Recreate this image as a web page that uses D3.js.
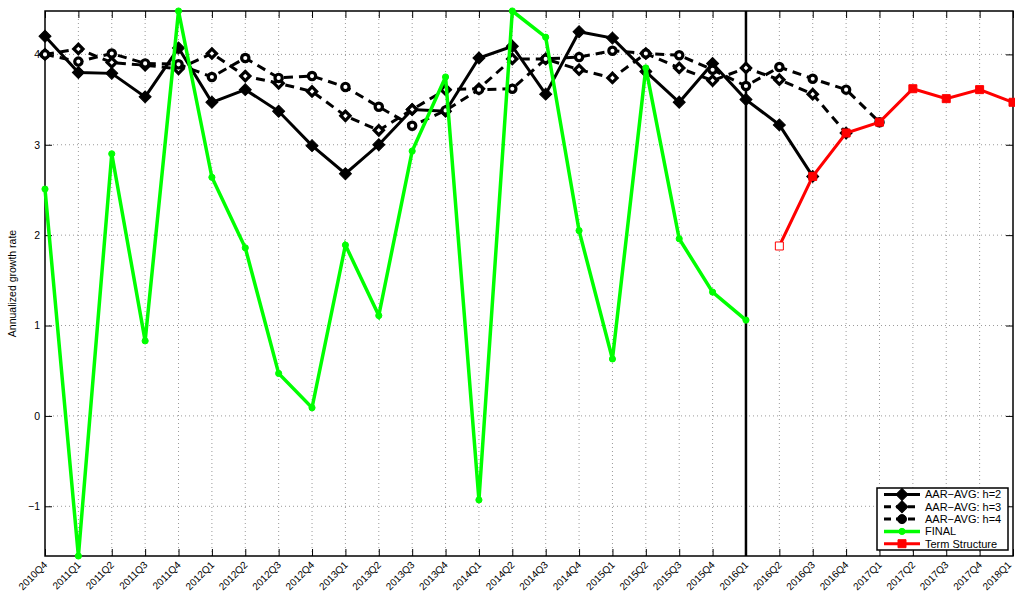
<!DOCTYPE html>
<html>
<head>
<meta charset="utf-8">
<script src="https://cdn.jsdelivr.net/npm/d3@7"></script>
<style>
  body { margin: 0; background: #fff; }
  svg { display: block; font-family: "Liberation Sans", Arial, sans-serif; }
</style>
</head>
<body>
<script>
// quarters on the x axis
var quarters = ["2010Q4", "2011Q1", "2011Q2", "2011Q3", "2011Q4", "2012Q1", "2012Q2", "2012Q3",
    "2012Q4", "2013Q1", "2013Q2", "2013Q3", "2013Q4", "2014Q1", "2014Q2", "2014Q3", "2014Q4",
    "2015Q1", "2015Q2", "2015Q3", "2015Q4", "2016Q1", "2016Q2", "2016Q3", "2016Q4", "2017Q1",
    "2017Q2", "2017Q3", "2017Q4", "2018Q1"];

// series, each starts at 2010Q4 unless noted
var aarH2 = [4.20, 3.80, 3.79, 3.53, 4.07, 3.47, 3.61, 3.37, 2.99, 2.68, 3.00, 3.39, 3.37, 3.96,
    4.09, 3.56, 4.25, 4.18, 3.81, 3.47, 3.90, 3.50, 3.22, 2.65];
var aarH3 = [4.00, 4.06, 3.91, 3.88, 3.84, 4.01, 3.76, 3.68, 3.59, 3.32, 3.16, 3.39, 3.61, 3.62,
    3.95, 3.95, 3.83, 3.74, 4.01, 3.85, 3.71, 3.85, 3.72, 3.56, 3.13];
var aarH4 = [4.00, 3.92, 4.01, 3.90, 3.89, 3.75, 3.96, 3.74, 3.76, 3.64, 3.42, 3.21, 3.38, 3.61,
    3.62, 3.95, 3.97, 4.04, 4.01, 3.99, 3.83, 3.65, 3.86, 3.73, 3.61, 3.25];
var finalVals = [2.51, -1.55, 2.90, 0.83, 4.48, 2.64, 1.86, 0.47, 0.09, 1.89, 1.11, 2.93, 3.75,
    -0.93, 4.48, 4.19, 2.05, 0.63, 3.85, 1.96, 1.37, 1.06];
// term structure starts at 2016Q2
var termStart = "2016Q2";
var termVals = [1.88, 2.65, 3.13, 3.25, 3.62, 3.51, 3.61, 3.47];

var splitQuarter = "2016Q1";
var yTicks = [-1, 0, 1, 2, 3, 4];
var yLabel = "Annualized growth rate";

var width = 1015, height = 592;
var margin = {left: 45, right: 2, top: 11, bottom: 36};

function toPoints(vals, start) {
    var i0 = quarters.indexOf(start);
    return vals.map((v, i) => ({q: quarters[i0 + i], v: v}));
}

var series = [
    {name: "AAR\u2212AVG: h=2", pts: toPoints(aarH2, "2010Q4"), color: "#000", width: 3, dash: null,
     shape: "diamond", size: 72, fill: "#000", sw: 1},
    {name: "AAR\u2212AVG: h=3", pts: toPoints(aarH3, "2010Q4"), color: "#000", width: 3, dash: "9,6",
     shape: "diamond", size: 42, fill: "#fff", sw: 3.2},
    {name: "AAR\u2212AVG: h=4", pts: toPoints(aarH4, "2010Q4"), color: "#000", width: 3, dash: "9,6",
     shape: "circle", size: 42, fill: "#fff", sw: 3.2},
    {name: "FINAL", pts: toPoints(finalVals, "2010Q4"), color: "#00ff00", width: 3.5, dash: null,
     shape: "circle", size: 30, fill: "#00ff00", sw: 1},
    {name: "Term Structure", pts: toPoints(termVals, termStart), color: "#ff0000", width: 3, dash: null,
     shape: "square", size: 64, fill: "#ff0000", sw: 1}
];

function symbolPath(shape, size) {
    var t = shape == "circle" ? d3.symbolCircle : d3.symbolSquare;
    return d3.symbol(t, size)();
}

function chart() {
    var svg = d3.create("svg").attr("width", width).attr("height", height);

    var x = d3.scalePoint().domain(quarters).range([margin.left, width - margin.right]);
    var allVals = [].concat(aarH2, aarH3, aarH4, finalVals, termVals);
    var y = d3.scaleLinear().domain(d3.extent(allVals)).range([height - margin.bottom, margin.top]);

    var x0 = margin.left, x1 = width - margin.right;
    var y0 = height - margin.bottom, y1 = margin.top;

    // dotted grid
    var grid = svg.append("g").attr("stroke", "#9a9a9a").attr("stroke-width", 1)
        .attr("stroke-dasharray", "1,3");
    grid.selectAll(".gx").data(quarters.slice(1, -1)).join("line")
        .attr("x1", d => x(d)).attr("x2", d => x(d)).attr("y1", y0).attr("y2", y1);
    grid.selectAll(".gy").data(yTicks).join("line")
        .attr("x1", x0).attr("x2", x1).attr("y1", d => y(d)).attr("y2", d => y(d));

    // axes, ticks inside like matlab
    var fs = 10;
    svg.append("g").attr("transform", `translate(${x0},0)`)
        .call(d3.axisLeft(y).tickValues(yTicks).tickSize(-7).tickPadding(5).tickFormat(d => d < 0 ? "\u2212" + (-d) : d))
        .call(g => g.select(".domain").remove())
        .call(g => g.selectAll("text").attr("font-size", 10.5).attr("font-family", null));
    svg.append("g").attr("transform", `translate(${x1},0)`)
        .call(d3.axisRight(y).tickValues(yTicks).tickSize(-7).tickFormat(""))
        .call(g => g.select(".domain").remove());
    svg.append("g").attr("transform", `translate(0,${y0})`)
        .call(d3.axisBottom(x).tickSize(-7))
        .call(g => g.select(".domain").remove())
        .call(g => g.selectAll("text")
            .attr("font-size", fs).attr("font-family", null)
            .attr("text-anchor", "end")
            .attr("y", 0).attr("dy", "0.35em")
            // last label pulled in a little so it stays on the page
            .attr("transform", (d, i) => `translate(${i == quarters.length - 1 ? -4 : 0},7) rotate(-45)`));
    svg.append("g").attr("transform", `translate(0,${y1})`)
        .call(d3.axisTop(x).tickSize(-7).tickFormat(""))
        .call(g => g.select(".domain").remove());
    svg.selectAll(".tick line").attr("stroke", "#000");

    svg.append("rect").attr("x", x0).attr("y", y1).attr("width", x1 - x0).attr("height", y0 - y1)
        .attr("fill", "none").attr("stroke", "#000").attr("stroke-width", 1.5);

    svg.append("text")
        .attr("transform", `translate(16,${(y0 + y1) / 2}) rotate(-90)`)
        .attr("text-anchor", "middle").attr("font-size", 10.5).text(yLabel);

    // vertical line marking the forecast origin
    svg.append("line").attr("x1", x(splitQuarter)).attr("x2", x(splitQuarter))
        .attr("y1", y0).attr("y2", y1).attr("stroke", "#000").attr("stroke-width", 2.5);

    var line = d3.line().x(d => x(d.q)).y(d => y(d.v));

    for (const s of series) {
        svg.append("path").datum(s.pts)
            .attr("fill", "none").attr("stroke", s.color).attr("stroke-width", s.width)
            .attr("stroke-dasharray", s.dash).attr("stroke-linejoin", "miter").attr("d", line);
        svg.append("g").selectAll("path").data(s.pts).join("path")
            .attr("d", symbolPath(s.shape, s.size))
            .attr("transform", d => `translate(${x(d.q)},${y(d.v)})` + (s.shape == "diamond" ? " rotate(45)" : ""))
            .attr("fill", (d, i) => s.name == "Term Structure" && i == 0 ? "#fff" : s.fill)
            .attr("stroke", s.color).attr("stroke-width", s.sw);
    }

    // legend
    var lg = svg.append("g").attr("transform", "translate(877,488)");
    lg.append("rect").attr("width", 131).attr("height", 62)
        .attr("fill", "#fff").attr("stroke", "#000").attr("stroke-width", 1.5);
    var item = lg.selectAll(".item").data(series).join("g")
        .attr("transform", (d, i) => `translate(0,${6.5 + i * 12.3})`);
    item.append("line").attr("x1", 7).attr("x2", 43)
        .attr("stroke", d => d.color).attr("stroke-width", d => d.width)
        .attr("stroke-dasharray", d => d.dash ? "7,5" : null);
    item.append("path")
        .attr("d", d => symbolPath(d.shape, d.shape == "diamond" ? 72 : d.shape == "circle" && d.color == "#000" ? 64 : d.size))
        .attr("transform", d => "translate(25,0)" + (d.shape == "diamond" ? " rotate(45)" : ""))
        .attr("fill", d => d.color).attr("stroke", d => d.color);
    item.append("text").attr("x", 48).attr("dy", "0.35em").attr("font-size", 11)
        .text(d => d.name);

    return svg.node();
}

d3.select("body").append(() => chart());
</script>
</body>
</html>
